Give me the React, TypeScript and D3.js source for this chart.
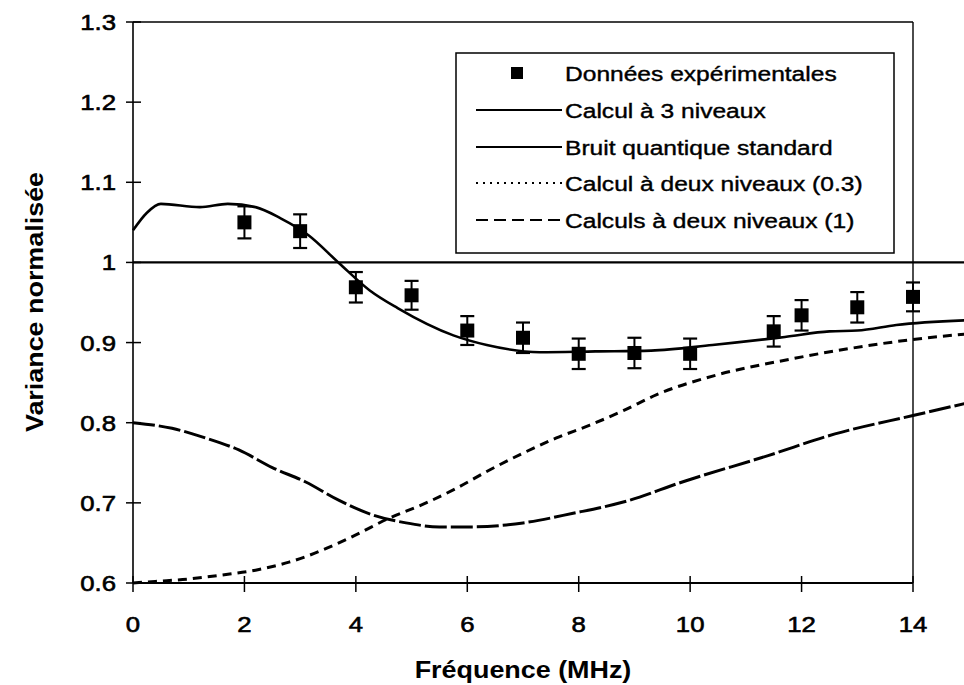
import * as d3 from 'd3';

// measured points (squares with error bars)
const pointFreq = [2, 3, 4, 5, 6, 7, 8, 9, 10, 11.5, 12, 13, 14];
const pointVar = [1.050, 1.039, 0.969, 0.959, 0.915, 0.906, 0.886, 0.887, 0.886, 0.914, 0.934, 0.944, 0.957];
const pointErr = [0.02, 0.021, 0.019, 0.018, 0.018, 0.019, 0.019, 0.019, 0.019, 0.019, 0.019, 0.019, 0.018];

// three-level calculation (solid)
const calc3Freq = [0, 0.25, 0.5, 1.2, 1.7, 2.2, 2.65, 3.15, 3.7, 4.25, 4.75, 5.75, 6.35, 7.3, 8.3, 9.3, 10.4, 11.7, 12.5, 13.0, 13.7, 15.0];
const calc3Var = [1.040, 1.062, 1.073, 1.069, 1.073, 1.069, 1.055, 1.034, 0.999, 0.965, 0.943, 0.909, 0.897, 0.888, 0.889, 0.890, 0.897, 0.907, 0.914, 0.915, 0.922, 0.928];

// standard quantum noise
const sqlFreq = [0, 15];
const sqlVar = [1, 1];

// two-level calculation (0.3), dotted
const two03Freq = [0, 0.4, 1.0, 1.6, 2.2, 2.8, 3.4, 4.0, 4.6, 5.2, 5.8, 6.4, 7.0, 7.6, 8.2, 8.8, 9.4, 10.5, 11.7, 12.9, 13.9, 15.0];
const two03Var = [0.600, 0.602, 0.605, 0.610, 0.616, 0.626, 0.641, 0.660, 0.681, 0.698, 0.718, 0.741, 0.762, 0.781, 0.797, 0.815, 0.835, 0.860, 0.878, 0.893, 0.903, 0.911];

// two-level calculation (1), dashed
const two1Freq = [0, 0.7, 1.3, 1.9, 2.5, 3.1, 3.7, 4.3, 4.9, 5.5, 6.1, 7.0, 7.9, 8.8, 9.9, 11.4, 12.6, 14.0, 15.0];
const two1Var = [0.800, 0.793, 0.781, 0.766, 0.744, 0.726, 0.703, 0.685, 0.675, 0.670, 0.670, 0.675, 0.687, 0.701, 0.727, 0.759, 0.786, 0.809, 0.825];

const xTicks = [0, 2, 4, 6, 8, 10, 12, 14];
const yTicks = [0.6, 0.7, 0.8, 0.9, 1, 1.1, 1.2, 1.3];
const yTickLabels = ['0.6', '0.7', '0.8', '0.9', '1', '1.1', '1.2', '1.3'];

const legendLabels = [
    'Données expérimentales',
    'Calcul à 3 niveaux',
    'Bruit quantique standard',
    'Calcul à deux niveaux (0.3)',
    'Calculs à deux niveaux (1)'
];

const font = '"Liberation Sans", Arial, sans-serif';
const stretch = 1.17;

function App() {
    const x = d3.scaleLinear().domain([0, 14]).range([133, 913]);
    const y = d3.scaleLinear().domain([0.6, 1.3]).range([583, 22]);

    const line = d3.line<[number, number]>()
        .x(d => x(d[0]))
        .y(d => y(d[1]))
        .curve(d3.curveMonotoneX);

    const zip = (a: number[], b: number[]) => a.map((v, i) => [v, b[i]] as [number, number]);

    const series = [
        { d: zip(calc3Freq, calc3Var), dash: undefined, w: 2.6 },
        { d: zip(sqlFreq, sqlVar), dash: undefined, w: 2.2 },
        { d: zip(two03Freq, two03Var), dash: '9 6', w: 3 },
        { d: zip(two1Freq, two1Var), dash: '22 4', w: 3 },
    ];

    const legendX = 456, legendY = 53, legendW = 438, legendH = 200;
    const rowY = [73, 110, 147, 183, 220];

    return (
        <svg width={964} height={685} style={{ position: 'absolute', left: 0, top: 0, background: '#fff' }}
            fontFamily={font}>
            {/* frame */}
            <line x1={x(0)} x2={x(0)} y1={y(1.3)} y2={y(0.6)} stroke="#000" strokeWidth={1.6} />
            <line x1={x(0)} x2={x(14)} y1={y(1.3)} y2={y(1.3)} stroke="#000" strokeWidth={1.6} />
            <line x1={x(14)} x2={x(14)} y1={y(1.3)} y2={y(0.6)} stroke="#000" strokeWidth={1.4} />
            <line x1={x(0)} x2={x(14)} y1={y(0.6)} y2={y(0.6)} stroke="#000" strokeWidth={1.8} />

            {/* y ticks */}
            {yTicks.map((t, i) => (
                <g key={'yt' + i}>
                    <line x1={x(0) - 7} x2={x(0) + 8} y1={y(t)} y2={y(t)} stroke="#000" strokeWidth={1.5} />
                    <text transform={`translate(${x(0) - 17},${y(t) + 8}) scale(${stretch},1)`} textAnchor="end"
                        fontSize={22} stroke="#000" strokeWidth={0.6}>{yTickLabels[i]}</text>
                </g>
            ))}
            {/* x ticks */}
            {xTicks.map((t, i) => (
                <g key={'xt' + i}>
                    <line x1={x(t)} x2={x(t)} y1={y(0.6) - 7} y2={y(0.6) + 9} stroke="#000" strokeWidth={1.5} />
                    <text transform={`translate(${x(t)},${y(0.6) + 49}) scale(${stretch},1)`} textAnchor="middle"
                        fontSize={22} stroke="#000" strokeWidth={0.6}>{t}</text>
                </g>
            ))}

            {/* axis titles */}
            <text transform={`translate(523,678) scale(${stretch},1)`} textAnchor="middle" fontSize={23} fontWeight="bold">
                Fréquence (MHz)
            </text>
            <text transform={`translate(43,302) rotate(-90) scale(${stretch},1)`} textAnchor="middle" fontSize={23} fontWeight="bold">
                Variance normalisée
            </text>

            {/* curves */}
            {series.map((s, i) => (
                <path key={'s' + i} d={line(s.d) || ''} fill="none" stroke="#000" strokeWidth={s.w}
                    strokeDasharray={s.dash} />
            ))}

            {/* points with error bars */}
            {pointFreq.map((f, i) => {
                const cx = x(f);
                const top = y(pointVar[i] + pointErr[i]);
                const bot = y(pointVar[i] - pointErr[i]);
                return (
                    <g key={'p' + i}>
                        <line x1={cx} x2={cx} y1={top} y2={bot} stroke="#000" strokeWidth={2} />
                        <line x1={cx - 7} x2={cx + 7} y1={top} y2={top} stroke="#000" strokeWidth={2.2} />
                        <line x1={cx - 7} x2={cx + 7} y1={bot} y2={bot} stroke="#000" strokeWidth={2.2} />
                        <rect x={cx - 7} y={y(pointVar[i]) - 7} width={14} height={14} fill="#000" />
                    </g>
                );
            })}

            {/* legend */}
            <rect x={legendX} y={legendY} width={legendW} height={legendH} fill="#fff" stroke="#000" strokeWidth={1.5} />
            <rect x={511} y={rowY[0] - 6} width={12} height={12} fill="#000" />
            <line x1={476} x2={562} y1={rowY[1]} y2={rowY[1]} stroke="#000" strokeWidth={2} />
            <line x1={476} x2={562} y1={rowY[2]} y2={rowY[2]} stroke="#000" strokeWidth={2} />
            <line x1={476} x2={562} y1={rowY[3]} y2={rowY[3]} stroke="#000" strokeWidth={2} strokeDasharray="2 5" />
            <line x1={476} x2={562} y1={rowY[4]} y2={rowY[4]} stroke="#000" strokeWidth={2} strokeDasharray="12 6" />
            {legendLabels.map((l, i) => (
                <text key={'l' + i} transform={`translate(565,${rowY[i] + 8}) scale(${stretch},1)`} fontSize={21}
                    stroke="#000" strokeWidth={0.4}>{l}</text>
            ))}
        </svg>
    );
}

export default App;
